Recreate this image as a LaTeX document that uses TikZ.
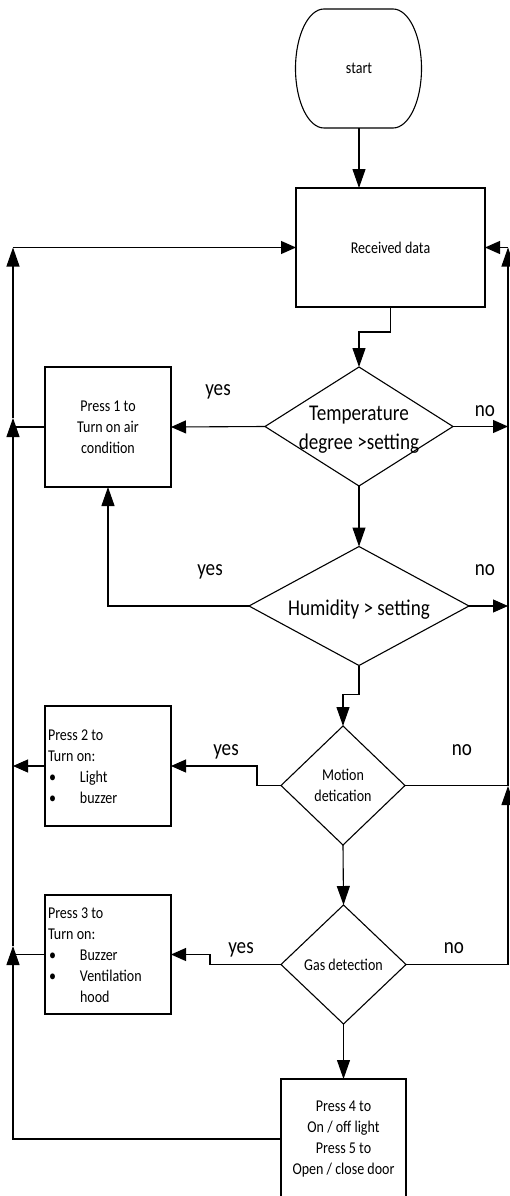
\documentclass[tikz,border=0pt]{standalone}
\usepackage{fontspec}
\setmainfont{Carlito}[FakeStretch=0.85]
\usetikzlibrary{shapes.geometric,arrows.meta}
\newcommand\bulitem{\makebox[32pt][l]{\hspace{1pt}\textbullet}}
\begin{document}
\begin{tikzpicture}[x=1pt,y=-1pt,
  line/.style={line width=1.1pt},
  arrH/.style={line, -{Triangle[length=15pt,width=13pt]}},
  arrV/.style={line, -{Triangle[length=19pt,width=13pt]}},
  smallfont/.style={font=\fontsize{16.5}{21}\selectfont},
  bigfont/.style={font=\fontsize{22.5}{29}\selectfont},
  box/.style={draw, line width=1.1pt, rectangle, inner sep=0pt, outer sep=0pt, align=center, smallfont},
  txt/.style={inner sep=0pt, outer sep=0pt, align=left, smallfont, anchor=north west},
  dia/.style={draw, line width=1.1pt, diamond, inner sep=0pt, outer sep=0pt},
  biglbl/.style={bigfont, align=center, yshift=-3.5pt, inner sep=0pt},
  smalllbl/.style={smallfont, align=center, inner sep=0pt},
  tag/.style={bigfont, anchor=base, inner sep=0pt}
]
\useasboundingbox (0,0) rectangle (509,1196);

% start terminator
\node[smallfont, minimum width=126pt, minimum height=119pt, inner sep=0pt, outer sep=0pt] (start) at (359,68.5) {start};
\draw[line] (324,9) -- (393,9) arc[start angle=-90,end angle=90,x radius=28.5,y radius=59.5]
  -- (324,128) arc[start angle=90,end angle=270,x radius=28.5,y radius=59.5] -- cycle;

% boxes
\node[box, minimum width=189pt, minimum height=119pt] (recv) at (390.5,247.5) {Received data};
\node[box, minimum width=126pt, minimum height=120pt] (p1) at (108,427) {Press 1 to\\Turn on air\\condition};
\node[box, minimum width=126pt, minimum height=120pt] (p2) at (108,766) {};
\node[txt] (p2t) at (48,729.5) {Press 2 to\\Turn on:\\\bulitem Light\\\bulitem buzzer};
\node[box, minimum width=126pt, minimum height=119pt] (p3) at (108,954.5) {};
\node[txt] (p3t) at (48,907.5) {Press 3 to\\Turn on:\\\bulitem Buzzer\\\bulitem Ventilation\\\hspace*{32pt}hood};
\node[box, minimum width=125pt, minimum height=120pt] (p4) at (343.5,1139) {Press 4 to\\On / off light\\Press 5 to\\Open / close door};

% diamonds
\node[dia, minimum width=188pt, minimum height=119pt, label={[biglbl]center:{Temperature\\degree >setting}}] (d1) at (359,426.5) {};
\node[dia, minimum width=220pt, minimum height=119pt, label={[biglbl]center:{Humidity > setting}}] (d2) at (359,606) {};
\node[dia, minimum width=124pt, minimum height=119pt, label={[smalllbl]center:{Motion\\detication}}] (d3) at (343,785.5) {};
\node[dia, minimum width=125pt, minimum height=119pt, label={[smalllbl]center:{Gas detection}}] (d4) at (343.5,964.5) {};

% trunk coordinates
\coordinate (L0) at (13,247.5);
\coordinate (L1) at (13,418);
\coordinate (L2) at (13,766);
\coordinate (L3) at (13,946);
\coordinate (L4) at (13,1139);
\coordinate (R0) at (508,247.5);
\coordinate (R3) at (508,786);
\coordinate (R4) at (508,964.5);

% connectors
\draw[arrV] (start.south) -- (start.south |- recv.north);
\draw[arrV] (recv.south) -- ++(0,25) -| (d1.north);
\draw[arrH] (d1.west) -- (p1.east);
\draw[arrH] (d1.east) -- (d1.east -| R0);
\draw[arrV] (d1.south) -- (d2.north);
\draw[arrV] (d2.west) -| (p1.south);
\draw[arrH] (d2.east) -- (d2.east -| R0);
\draw[arrV] (d2.south) -- ++(0,29) -| (d3.north);
\draw[arrH] (d3.west) -- ++(-24,0) |- (p2.east);
\draw[line] (d3.east) -- (d3.east -| R3);
\draw[arrV] (d3.south) -- (d4.north);
\draw[arrH] (d4.west) -- ++(-71,0) |- (p3.east);
\draw[arrV] (d4.east) -- (R4) -- (R3);
\draw[arrV] (R3) -- (R0);
\draw[arrH] (R0) -- (recv.east);
\draw[arrV] (d4.south) -- (p4.north);
\draw[arrV] (p4.west) -- (L4) -- (L3);
\draw[line] (p3.west) -- (p3.west -| L3);
\draw[arrV] (L3) -- (L1);
\draw[line] (p1.west) -- (p1.west -| L1);
\draw[arrH] (p2.west) -- (L2);
\draw[arrV] (L1) -- (L0);
\draw[arrH] (L0) -- (recv.west);

% yes / no labels
\node[tag] (y1) at (218,395) {yes};
\node[tag] (n1) at (485,416) {no};
\node[tag] (y2) at (210,575) {yes};
\node[tag] (n2) at (485,575) {no};
\node[tag] (y3) at (226,755) {yes};
\node[tag] (n3) at (462,755) {no};
\node[tag] (y4) at (241,953) {yes};
\node[tag] (n4) at (454,953) {no};
\end{tikzpicture}
\end{document}
